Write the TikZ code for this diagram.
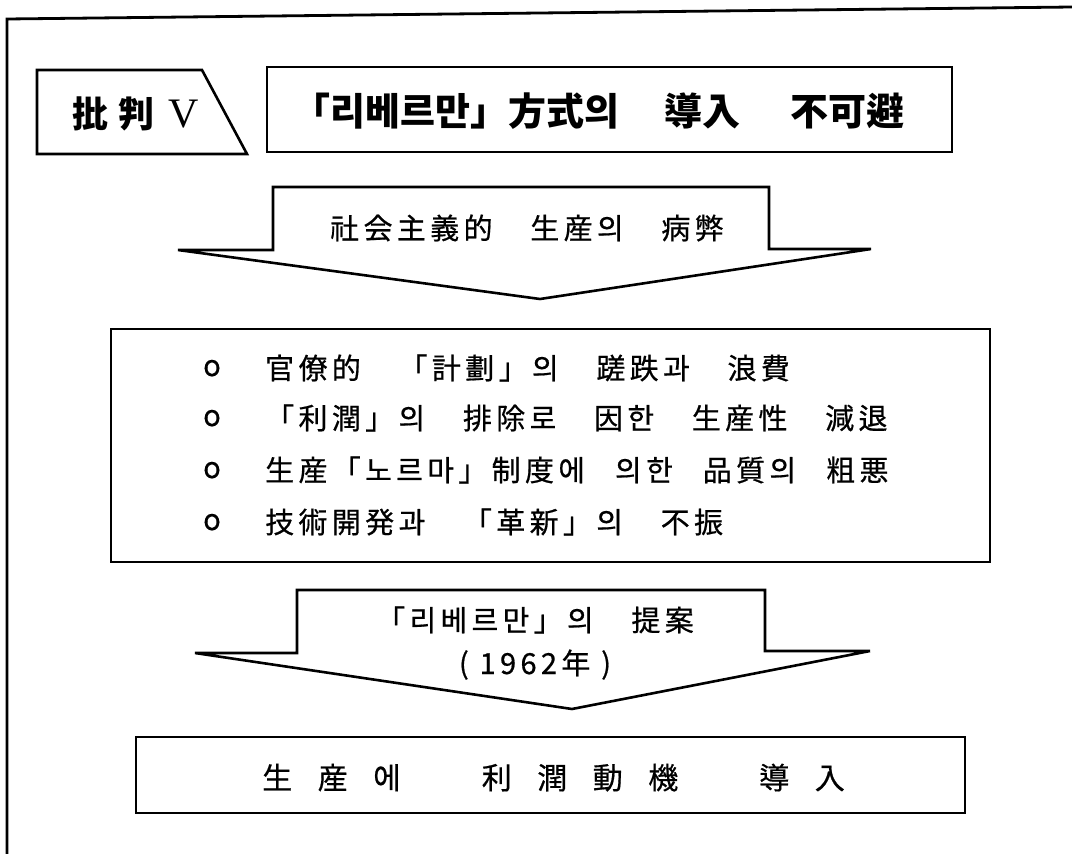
\documentclass[tikz,border=0pt]{standalone}
\usepackage{fontspec}
\usepackage{tikz}
\usetikzlibrary{calc}
\setmainfont{Liberation Serif}
\newfontfamily\krfont{Noto Sans CJK KR}[LetterSpace=15,FakeBold=0.6]
\newfontfamily\krhead{Noto Sans CJK KR}
\tikzset{
  frame/.style={draw=black, line width=2.8pt, line cap=round, line join=miter},
  blk/.style={draw=black, line width=2.6pt, line join=miter},
  arw/.style={draw=black, line width=2.6pt, line join=miter},
  lab/.style={text=black, font=\krfont\fontsize{29}{32}\selectfont, inner sep=0pt},
  labh/.style={text=black, font=\krhead\bfseries\fontsize{38}{42}\selectfont, inner sep=0pt},
  labt/.style={text=black, font=\krhead\bfseries\fontsize{36}{40}\selectfont, inner sep=0pt},
  labw/.style={text=black, font={\krfont\fontsize{30}{34}\selectfont\addfontfeature{LetterSpace=85}}, inner sep=0pt},
}

\begin{document}
\begin{tikzpicture}[x=1pt,y=-1pt]
  \useasboundingbox (0,0) rectangle (1072,854);
  % outer frame
  \draw[frame] (7,854) -- (7,19) -- (1072,7);

  % heading
  \draw[blk] (37,70) -- (202,70) -- (247,154) -- (37,154) -- cycle;
  \node[labt, anchor=base west] (tag) at (72,127) {批\hspace{10pt}判\hspace{14pt}{\rmfamily\mdseries\fontsize{42}{44}\selectfont V}};
  \draw[blk] (267,67) rectangle (952,152);
  \node[labh, anchor=base west] (title) at (292,125) {「리베르만」方式의\hspace{46pt}導入\hspace{50pt}不可避};

  % first arrow
  \coordinate (A1) at (273,187);
  \coordinate (A2) at (769,187);
  \coordinate (T1) at (540,299);
  \draw[arw] (A1) -- (A2) -- (769,249) -- (871,249) -- (T1) -- (178,250) -- (273,250) -- cycle;
  \node[lab, anchor=base] (ill) at (527,239) {社会主義的　生産의　病弊};

  % list box
  \draw[blk] (111,329) rectangle (990,562);
  \node[lab, anchor=base] (b1) at (212,376) {o};
  \node[lab, anchor=base] (b2) at (212,426) {o};
  \node[lab, anchor=base] (b3) at (212,478) {o};
  \node[lab, anchor=base] (b4) at (212,530) {o};
  \node[lab, anchor=base west] (l1) at (265,379) {官僚的　「計劃」의　蹉跌과　浪費};
  \node[lab, anchor=base west] (l2) at (265,429) {「利潤」의　排除로　因한　生産性　減退};
  \node[lab, anchor=base west] (l3) at (265,481) {生産「노르마」制度에\hspace{30pt}의한\hspace{30pt}品質의\hspace{30pt}粗悪};
  \node[lab, anchor=base west] (l4) at (265,533) {技術開発과　「革新」의　不振};

  % second arrow
  \coordinate (B1) at (297,590);
  \coordinate (B2) at (765,590);
  \coordinate (T2) at (572,709);
  \draw[arw] (B1) -- (B2) -- (765,651) -- (870,651) -- (T2) -- (195,653) -- (297,653) -- cycle;
  \node[lab, anchor=base] (prop) at (535,631) {「리베르만」의　提案};
  \node[lab, anchor=base] (year) at (535,674) {( 1962年 )};

  % result box
  \draw[blk] (136,737) rectangle (965,813);
  \node[labw, anchor=base west] (res) at (262,789) {生産에　利潤動機　導入};
\end{tikzpicture}
\end{document}
